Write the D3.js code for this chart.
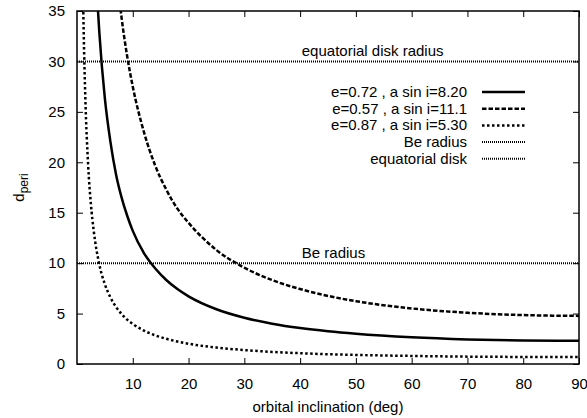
<!DOCTYPE html>
<html>
<head>
<meta charset="utf-8">
<script src="https://cdn.jsdelivr.net/npm/d3@7"></script>
<style>
  body { margin: 0; background: #fff; }
  svg { display: block; font-family: "Liberation Sans", Arial, sans-serif; }
  text { fill: #000; }
</style>
</head>
<body>
<svg width="587" height="418"></svg>
<script>
// values
const incl1 = [3.7, 4, 5, 6, 7, 8, 9, 10, 12, 14, 16, 18, 20, 25, 30, 35, 40, 45, 50, 60, 70, 80, 90];
const dperi1 = [35.6, 32.9, 26.3, 22.0, 18.8, 16.5, 14.7, 13.2, 11.0, 9.49, 8.33, 7.43, 6.71, 5.43, 4.59, 4.00, 3.57, 3.25, 3.00, 2.65, 2.44, 2.33, 2.30];

const incl2 = [7.8, 8, 9, 10, 12, 14, 16, 18, 20, 25, 30, 35, 40, 45, 50, 60, 70, 80, 90];
const dperi2 = [35.2, 34.3, 30.5, 27.5, 23.0, 19.7, 17.3, 15.4, 14.0, 11.3, 9.55, 8.32, 7.43, 6.75, 6.23, 5.51, 5.08, 4.85, 4.77];

const incl3 = [1.1, 1.2, 1.5, 2, 2.5, 3, 4, 5, 6, 7, 8, 9, 10, 12, 14, 16, 18, 20, 25, 30, 35, 40, 45, 50, 60, 70, 80, 90];
const dperi3 = [35.9, 32.9, 26.3, 19.7, 15.8, 13.2, 9.88, 7.90, 6.59, 5.65, 4.95, 4.40, 3.97, 3.31, 2.85, 2.50, 2.23, 2.01, 1.63, 1.38, 1.20, 1.07, 0.97, 0.90, 0.80, 0.73, 0.70, 0.69];

const seriesNames = ["e=0.72 , a sin i=8.20", "e=0.57 , a sin i=11.1", "e=0.87 , a sin i=5.30", "Be radius", "equatorial disk"];

const refValues = [30, 10];
const refLabels = ["equatorial disk radius", "Be radius"];

const xTicks = [10, 20, 30, 40, 50, 60, 70, 80, 90];
const yTicks = [0, 5, 10, 15, 20, 25, 30, 35];

const svg = d3.select('svg');
const margin = { left: 77, right: 8, top: 11, bottom: 54 };
const width = 587 - margin.left - margin.right;
const height = 418 - margin.top - margin.bottom;

const x = d3.scaleLinear().domain([0, 90]).range([0, width]);
const y = d3.scaleLinear().domain([0, 35]).range([height, 0]);

const g = svg.append('g').attr('transform', `translate(${margin.left},${margin.top})`);

g.append('clipPath').attr('id', 'plot-clip')
  .append('rect').attr('width', width).attr('height', height);

// tick marks point inward, mirrored on top and right
const tickLen = 6;
const tickStyle = sel => {
  sel.select('.domain').remove();
  sel.selectAll('.tick line').attr('stroke', '#000').attr('stroke-width', 1);
  sel.selectAll('.tick text').attr('font-size', 15).attr('fill', '#000');
};

g.append('g').attr('transform', `translate(0,${height})`)
  .call(d3.axisBottom(x).tickValues(xTicks).tickSizeInner(-tickLen).tickSizeOuter(0).tickPadding(14))
  .call(tickStyle);
g.append('g')
  .call(d3.axisTop(x).tickValues(xTicks).tickSizeInner(-tickLen).tickSizeOuter(0).tickFormat(''))
  .call(tickStyle);
g.append('g')
  .call(d3.axisLeft(y).tickValues(yTicks).tickSizeInner(-tickLen).tickSizeOuter(0).tickPadding(12))
  .call(tickStyle);
g.append('g').attr('transform', `translate(${width},0)`)
  .call(d3.axisRight(y).tickValues(yTicks).tickSizeInner(-tickLen).tickSizeOuter(0).tickFormat(''))
  .call(tickStyle);

// reference lines
const plot = g.append('g').attr('clip-path', 'url(#plot-clip)');
refValues.forEach((v, i) => {
  plot.append('line')
    .attr('x1', 0).attr('x2', width)
    .attr('y1', y(v)).attr('y2', y(v))
    .attr('stroke', '#000').attr('stroke-width', 2)
    .attr('stroke-dasharray', '1,1');
  g.append('text')
    .attr('x', x(40.3)).attr('y', y(v) - 5)
    .attr('font-size', 15)
    .text(refLabels[i]);
});

// curves
const curves = [
  { xs: incl1, ys: dperi1, dash: null },
  { xs: incl2, ys: dperi2, dash: '4.5,2' },
  { xs: incl3, ys: dperi3, dash: '2.5,2.5' },
];
const line = d3.line().x(d => x(d[0])).y(d => y(d[1])).curve(d3.curveMonotoneX);
curves.forEach(c => {
  plot.append('path')
    .datum(c.xs.map((v, i) => [v, c.ys[i]]))
    .attr('d', line)
    .attr('fill', 'none')
    .attr('stroke', '#000')
    .attr('stroke-width', 2.5)
    .attr('stroke-dasharray', c.dash);
});

// frame
g.append('rect').attr('width', width).attr('height', height)
  .attr('fill', 'none').attr('stroke', '#000').attr('stroke-width', 1.5);

// legend
const legendStyles = [
  { dash: null, w: 2.5 },
  { dash: '4.5,2', w: 2.5 },
  { dash: '2.5,2.5', w: 2.5 },
  { dash: '1,1', w: 2 },
  { dash: '1,1', w: 2 },
];
const legend = svg.append('g');
const legendY0 = 92, legendStep = 16.7;
seriesNames.forEach((name, i) => {
  const ly = legendY0 + i * legendStep;
  legend.append('text')
    .attr('x', 467).attr('y', ly + 5)
    .attr('text-anchor', 'end')
    .attr('font-size', 15)
    .text(name);
  legend.append('line')
    .attr('x1', 482).attr('x2', 525)
    .attr('y1', ly).attr('y2', ly)
    .attr('stroke', '#000')
    .attr('stroke-width', legendStyles[i].w)
    .attr('stroke-dasharray', legendStyles[i].dash);
});

// axis titles
svg.append('text')
  .attr('x', margin.left + width / 2).attr('y', 412)
  .attr('text-anchor', 'middle')
  .attr('font-size', 15)
  .text('orbital inclination (deg)');

const yLabel = svg.append('text')
  .attr('transform', `translate(24,${margin.top + height / 2}) rotate(-90)`)
  .attr('text-anchor', 'middle')
  .attr('font-size', 15);
yLabel.append('tspan').text('d');
yLabel.append('tspan').attr('dy', 4).attr('font-size', 12).text('peri');
</script>
</body>
</html>
